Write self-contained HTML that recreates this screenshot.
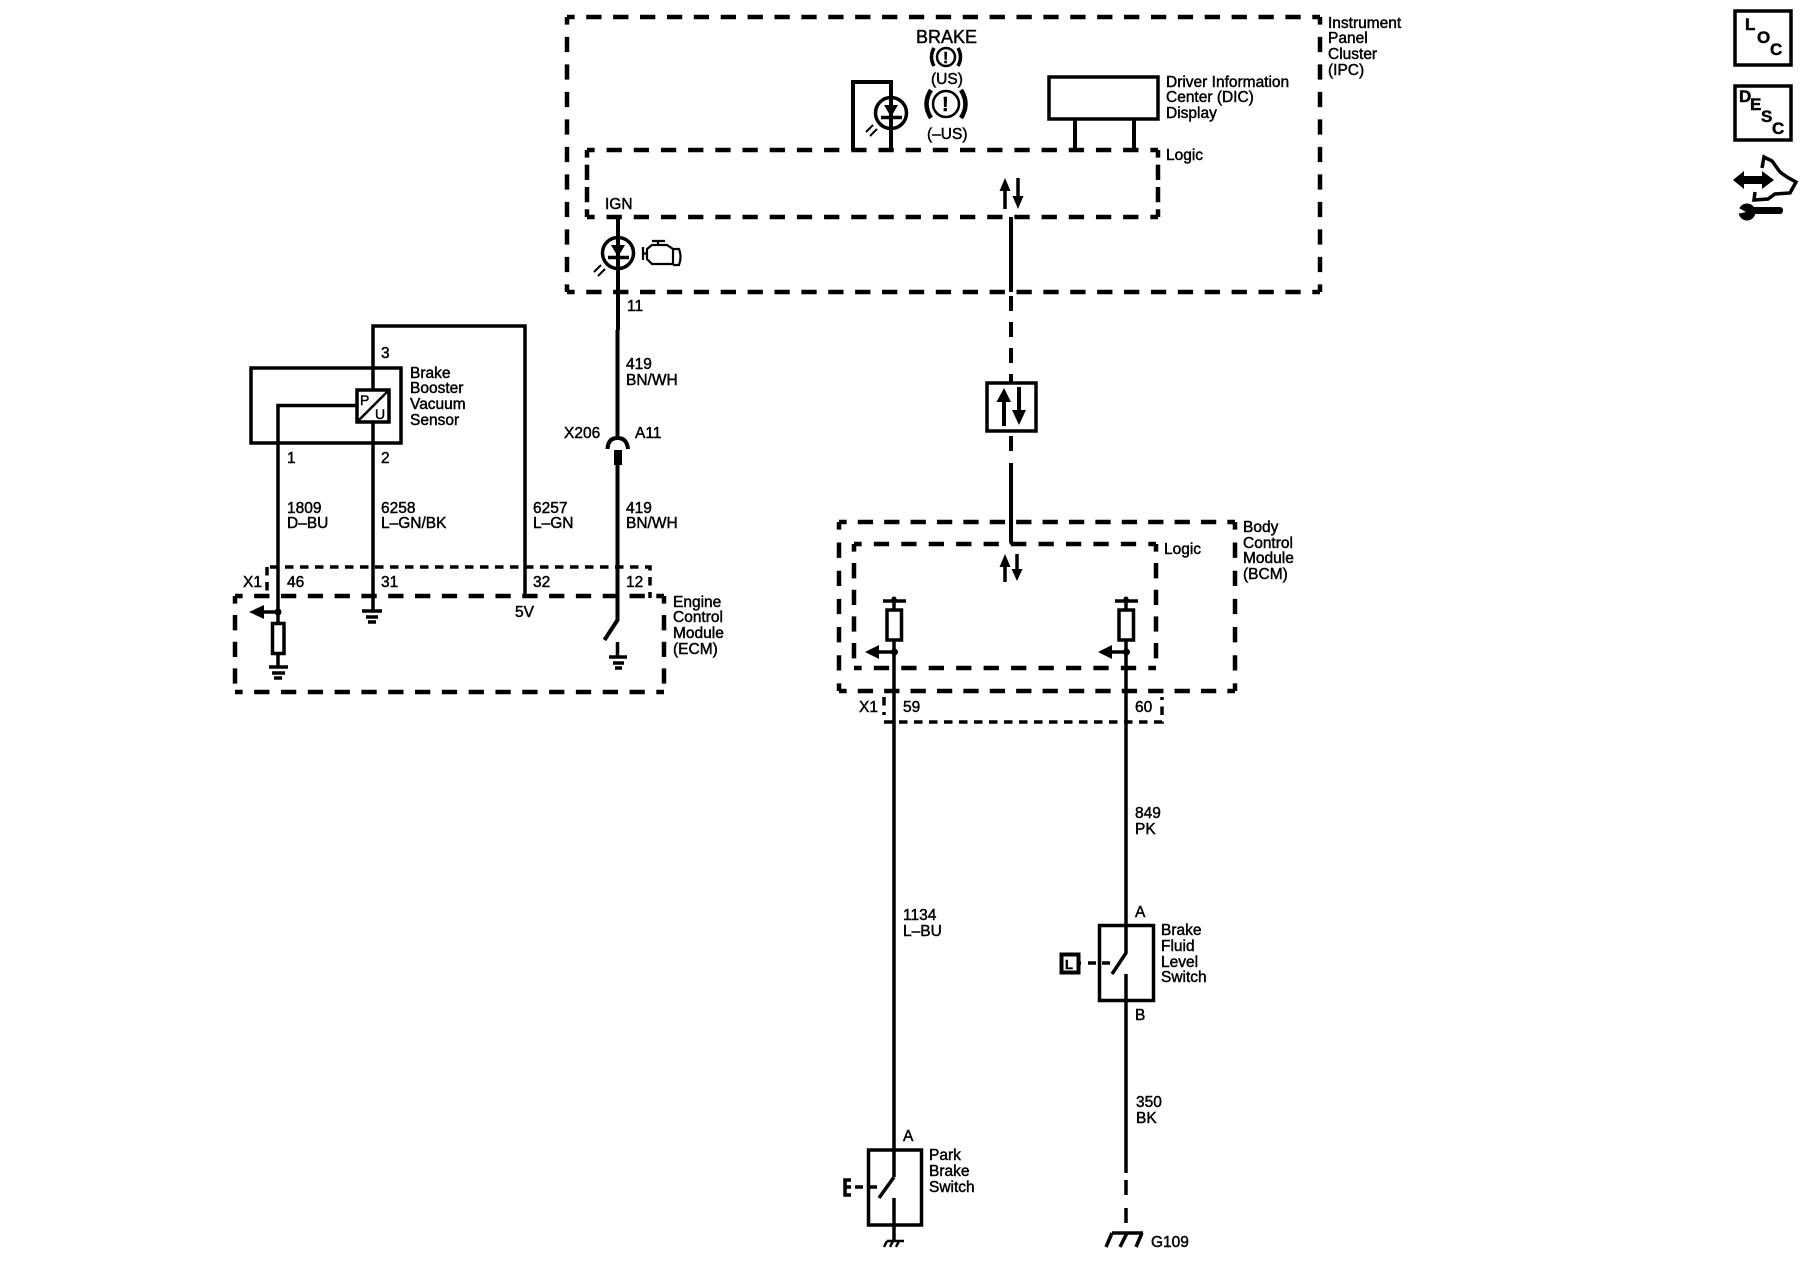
<!DOCTYPE html>
<html>
<head>
<meta charset="utf-8">
<style>
html,body{margin:0;padding:0;background:#fff;width:1800px;height:1280px;overflow:hidden}
svg{display:block}
text{font-family:"Liberation Sans",sans-serif;font-size:15.5px;fill:#000;stroke:#000;stroke-width:.45px}
.w{fill:none;stroke:#000;stroke-width:4}
.t{fill:none;stroke:#000;stroke-width:3.5}
.d{fill:none;stroke:#000;stroke-width:4.5}
.s{fill:none;stroke:#000;stroke-width:3.5;stroke-dasharray:8.5 6.5}
.f{fill:#000;stroke:none}
.b{font-weight:bold;font-size:17px}
</style>
</head>
<body>
<svg width="1800" height="1280" viewBox="0 0 1800 1280" xmlns="http://www.w3.org/2000/svg">
<rect width="1800" height="1280" fill="#fff"/>

<!-- IPC -->
<g class="d" stroke-dashoffset="7.65">
<path d="M567 17H1320M567 292H1320" stroke-dasharray="15.3 11.59"/>
<path d="M567 17V292M1320 17V292" stroke-dasharray="15.3 12.2"/>
<path d="M587 150H1158M587 217H1158" stroke-dasharray="15.3 11.89"/>
<path d="M587 150V217M1158 150V217" stroke-dasharray="15.3 7"/>
</g>
<path class="w" d="M853 150V82H891V150"/>
<circle class="t" cx="891" cy="113" r="15.5"/>
<path class="f" d="M884 105H898L891 117Z"/>
<path class="t" d="M881 117.5H902"/>
<path d="M866 132L873 125M870 136L877 129" stroke="#000" stroke-width="2"/>
<rect x="1049" y="77" width="109" height="42" class="t"/>
<path class="w" d="M1075 119V150M1134 119V150"/>
<path class="w" d="M618 217V330"/>
<circle class="t" cx="618" cy="253" r="15.5"/>
<path class="f" d="M611 245H625L618 257Z"/>
<path class="t" d="M608 257.5H629"/>
<path d="M594 272L601 265M598 276L605 269" stroke="#000" stroke-width="2"/>
<path d="M643 247V260M644 253.5H647M647 249L652 245H667L673 249V264H652L647 259ZM652 241H665M658 241V245M673 249H679Q682 257 679 265H673" fill="none" stroke="#000" stroke-width="2.2"/>
<text x="605" y="209">IGN</text>
<text x="627" y="311">11</text>
<path class="w" d="M1011 217V292"/>
<path class="w" d="M1011 296V382" stroke-dasharray="15 11"/>
<rect x="987" y="383" width="49" height="48" class="t"/>
<path class="w" d="M1011 436V462" stroke-dasharray="15 11"/>
<path class="w" d="M1011 463V541Q1011 544 1015 544"/>
<!-- IPC bus arrows -->
<path class="t" d="M1005 209V186M1018 178V201"/>
<path class="f" d="M1005 178L1010.5 191H999.5ZM1018 209L1012.5 196H1023.5Z"/>
<!-- Box arrows -->
<path class="w" d="M1004 426V398M1019 387V412"/>
<path class="f" d="M1004 388L1011 402H996.5ZM1019 425L1012 410H1026Z"/>

<text x="916" y="43" style="font-size:18px">BRAKE</text>
<circle cx="946" cy="57" r="9" class="t" style="stroke-width:2.5"/>
<path d="M934 48Q929 57 934 66M958 48Q963 57 958 66" fill="none" stroke="#000" stroke-width="3.5"/>
<text x="943" y="63" style="font-size:16px;font-weight:bold">!</text>
<text x="931" y="84">(US)</text>
<circle cx="946" cy="104" r="13" class="t" style="stroke-width:2.5"/>
<path d="M931 90Q922 104 931 118M961 90Q970 104 961 118" fill="none" stroke="#000" stroke-width="4.5"/>
<text x="942" y="111" style="font-size:20px;font-weight:bold">!</text>
<text x="927" y="139">(–US)</text>
<text x="1166" y="87">Driver Information</text>
<text x="1166" y="102">Center (DIC)</text>
<text x="1166" y="118">Display</text>
<text x="1166" y="160">Logic</text>
<text x="1328" y="28">Instrument</text>
<text x="1328" y="43">Panel</text>
<text x="1328" y="59">Cluster</text>
<text x="1328" y="75">(IPC)</text>

<!-- Sensor -->
<rect class="t" x="251" y="368" width="150" height="75"/>
<path class="t" d="M373 368V326H525V596"/>
<rect x="357" y="390" width="32" height="32" fill="#fff" stroke="#000" stroke-width="3.5"/>
<path d="M358 421L388 391" stroke="#000" stroke-width="2.5"/>
<text x="360" y="405" style="font-size:14px">P</text>
<text x="375" y="419" style="font-size:14px">U</text>
<path class="t" d="M357 405.5H278V612"/>
<path class="t" d="M373 422V610M373 368V390"/>
<text x="410" y="378">Brake</text>
<text x="410" y="393">Booster</text>
<text x="410" y="409">Vacuum</text>
<text x="410" y="425">Sensor</text>
<text x="381" y="358">3</text>
<text x="287" y="463">1</text>
<text x="381" y="463">2</text>
<text x="287" y="513">1809</text>
<text x="287" y="528">D–BU</text>
<text x="381" y="513">6258</text>
<text x="381" y="528">L–GN/BK</text>
<text x="533" y="513">6257</text>
<text x="533" y="528">L–GN</text>
<text x="626" y="369">419</text>
<text x="626" y="385">BN/WH</text>
<text x="564" y="438">X206</text>
<text x="635" y="438">A11</text>
<text x="626" y="513">419</text>
<text x="626" y="528">BN/WH</text>

<!-- X206 -->
<path class="w" d="M617.5 330V440"/>
<path d="M607.5 449Q608 438 617.5 438Q627 438 628 449" fill="none" stroke="#000" stroke-width="4"/>
<rect class="f" x="614" y="450" width="8" height="15"/>
<path class="w" d="M617.5 465V620L604.5 640"/>
<path class="t" d="M617.5 642V657M609 657H627"/>
<path class="t" d="M613 663H624M615 668H622"/>

<!-- ECM -->
<path class="s" d="M270 567H650V598M267 567V592"/>
<g class="d" stroke-dashoffset="7.65">
<path d="M235 596H664M235 692H664" stroke-dasharray="15.3 11.51"/>
<path d="M235 596V692M664 596V692" stroke-dasharray="15.3 11.37"/>
</g>
<text x="243" y="587">X1</text>
<text x="287" y="587">46</text>
<text x="381" y="587">31</text>
<text x="533" y="587">32</text>
<text x="626" y="587">12</text>
<text x="515" y="617">5V</text>
<text x="673" y="607">Engine</text>
<text x="673" y="622">Control</text>
<text x="673" y="638">Module</text>
<text x="673" y="654">(ECM)</text>
<path class="t" d="M278 612H262"/>
<circle cx="278" cy="612" r="3.5" class="f"/>
<path class="f" d="M249 612L264 605V619Z"/>
<rect class="t" x="272.5" y="623.5" width="11.5" height="30"/>
<path class="t" d="M278 612V623M278 654V667M269 667H288"/>
<path class="t" d="M272 673H285M274 678H282"/>
<path class="t" d="M362 611H382M366 617H378M368 622H376"/>

<!-- BCM -->
<g class="d" stroke-dashoffset="7.65">
<path d="M839 522H1235M839 691H1235" stroke-dasharray="15.3 11.1"/>
<path d="M839 522V691M1235 522V691" stroke-dasharray="15.3 12.87"/>
<path d="M854 544H1156M854 668H1156" stroke-dasharray="15.3 12.15"/>
<path d="M854 544V668M1156 544V668" stroke-dasharray="15.3 11.37"/>
</g>
<path class="t" d="M1005 582V560M1017 554V576"/>
<path class="f" d="M1005 554L1010.5 567H999.5ZM1017 581L1011.5 569H1022.5Z"/>
<path class="s" d="M884 722H1162V697M884 697V715"/>
<text x="1243" y="532">Body</text>
<text x="1243" y="548">Control</text>
<text x="1243" y="563">Module</text>
<text x="1243" y="579">(BCM)</text>
<text x="1164" y="554">Logic</text>
<text x="859" y="712">X1</text>
<text x="903" y="712">59</text>
<text x="1135" y="712">60</text>
<!-- left chain -->
<path class="t" d="M883 601H906M894 598V610"/>
<circle cx="894" cy="599" r="2.5" class="f"/>
<rect x="887" y="610" width="14.5" height="30" class="t"/>
<path class="t" d="M894 640V1177"/>
<circle cx="894.5" cy="652" r="3.5" class="f"/>
<path class="t" d="M878 652H894"/>
<path class="f" d="M865 652L879 645V659Z"/>
<!-- right chain -->
<path class="t" d="M1115 601H1138M1126 598V610"/>
<circle cx="1126" cy="599" r="2.5" class="f"/>
<rect x="1119" y="610" width="14.5" height="30" class="t"/>
<path class="t" d="M1126 640V953L1112 974"/>
<circle cx="1126.5" cy="652" r="3.5" class="f"/>
<path class="t" d="M1111 652H1126"/>
<path class="f" d="M1098 652L1112 645V659Z"/>
<path class="t" d="M1126 974V1173"/>
<path d="M1126 1180V1233" fill="none" stroke="#000" stroke-width="3.5" stroke-dasharray="15 13"/>

<text x="1135" y="818">849</text>
<text x="1135" y="834">PK</text>
<text x="903" y="920">1134</text>
<text x="903" y="936">L–BU</text>

<!-- Brake fluid switch -->
<rect class="t" x="1099.5" y="925.5" width="54" height="75"/>
<rect class="t" x="1061.5" y="954.5" width="17" height="18" style="stroke-width:4"/>
<text x="1065" y="969" style="font-size:13px;font-weight:bold">L</text>
<path class="t" d="M1079 963H1081M1088 963H1096M1102 963H1110"/>
<text x="1135" y="917">A</text>
<text x="1135" y="1020">B</text>
<text x="1161" y="935">Brake</text>
<text x="1161" y="951">Fluid</text>
<text x="1161" y="967">Level</text>
<text x="1161" y="982">Switch</text>
<text x="1136" y="1107">350</text>
<text x="1136" y="1123">BK</text>
<text x="1151" y="1247">G109</text>
<path class="t" d="M1112 1233H1143M1112 1233L1106 1247M1127 1233L1120 1247M1142 1233L1136 1247"/>

<!-- Park brake switch -->
<rect class="t" x="868.5" y="1150" width="53" height="75"/>
<path class="t" d="M894 1177L879 1198M894 1198V1240"/>
<path class="t" d="M855 1187H863M869 1187H877"/>
<path class="t" d="M851 1180H845V1195H851"/>
<path class="t" d="M845 1187H851"/>
<text x="903" y="1141">A</text>
<text x="929" y="1160">Park</text>
<text x="929" y="1176">Brake</text>
<text x="929" y="1192">Switch</text>
<path class="t" d="M887 1241H904M887 1241L884 1247M893 1241L890 1247M899 1241L896 1247" style="stroke-width:2.5"/>

<!-- top right icons -->
<rect class="t" x="1735" y="11" width="56" height="54"/>
<text class="b" x="1745" y="30">L</text>
<text class="b" x="1757" y="43">O</text>
<text class="b" x="1770" y="55">C</text>
<rect class="t" x="1735" y="86" width="56" height="54"/>
<text class="b" x="1739" y="102">D</text>
<text class="b" x="1750" y="110">E</text>
<text class="b" x="1761" y="122">S</text>
<text class="b" x="1772" y="134">C</text>
<path class="f" d="M1733 180L1744 171V176H1762V171L1774 180L1762 189V184H1744V189Z"/>
<path d="M1762 168L1764 157L1772 161L1780 172L1787 177L1796 182L1790 193L1775 194L1768 199L1754 200L1755 192" fill="none" stroke="#000" stroke-width="3.5"/>
<rect class="f" x="1750" y="207" width="33" height="7" rx="3"/>
<circle class="f" cx="1747" cy="212" r="8.5"/>
<path d="M1737 207L1746 212L1737 214Z" fill="#fff"/>
</svg>
</body>
</html>
